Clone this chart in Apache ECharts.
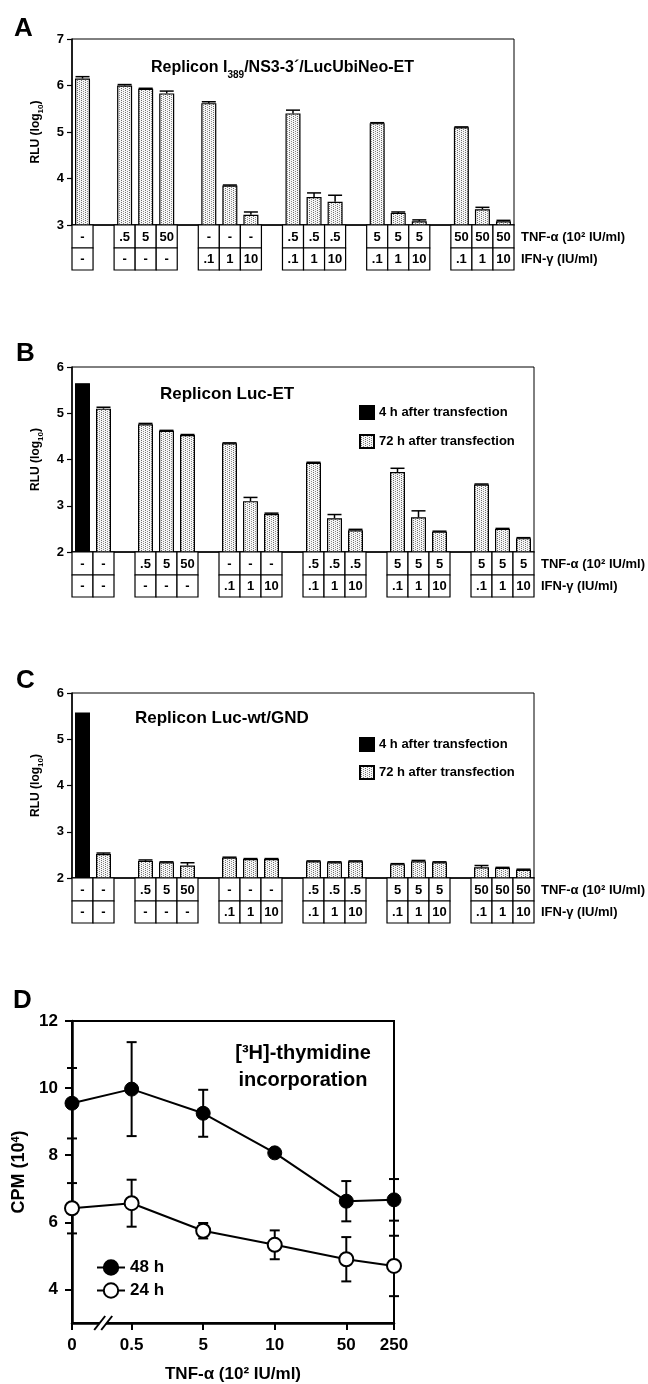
<!DOCTYPE html>
<html>
<head>
<meta charset="utf-8">
<script src="https://cdn.jsdelivr.net/npm/echarts@6/dist/echarts.min.js"></script>
<style>
  html, body { margin: 0; padding: 0; background: #fff; }
  #chart { width: 648px; height: 1384px; }
</style>
</head>
<body>
<div id="chart"></div>
<script>
var FONT = 'Liberation Sans, Arial, sans-serif';

// ---- panel A: Replicon I389/NS3-3'/LucUbiNeo-ET
var aGroups = [1, 3, 3, 3, 3, 3];
var aTnf = ['-', '.5', '5', '50', '-', '-', '-', '.5', '.5', '.5', '5', '5', '5', '50', '50', '50'];
var aIfn = ['-', '-', '-', '-', '.1', '1', '10', '.1', '1', '10', '.1', '1', '10', '.1', '1', '10'];
var aRlu = [6.15, 6.00, 5.93, 5.83, 5.62, 3.85, 3.22, 5.40, 3.60, 3.50, 5.19, 3.26, 3.08, 5.10, 3.34, 3.08];
var aErr = [0.04, 0.02, 0.01, 0.05, 0.03, 0.01, 0.06, 0.07, 0.09, 0.14, 0.01, 0.02, 0.03, 0.01, 0.04, 0.02];

// ---- panel B: Replicon Luc-ET
var bGroups = [2, 3, 3, 3, 3, 3];
var bTnf = ['-', '-', '.5', '5', '50', '-', '-', '-', '.5', '.5', '.5', '5', '5', '5', '5', '5', '5'];
var bIfn = ['-', '-', '-', '-', '-', '.1', '1', '10', '.1', '1', '10', '.1', '1', '10', '.1', '1', '10'];
var b4h = [5.65];
var b4hErr = [0];
var b72h = [5.10, 4.76, 4.62, 4.53, 4.35, 3.10, 2.82, 3.93, 2.73, 2.47, 3.73, 2.75, 2.44, 3.46, 2.50, 2.30];
var b72hErr = [0.03, 0.02, 0.01, 0.01, 0.01, 0.08, 0.02, 0.01, 0.08, 0.02, 0.08, 0.14, 0.01, 0.01, 0.01, 0.01];

// ---- panel C: Replicon Luc-wt/GND
var cGroups = [2, 3, 3, 3, 3, 3];
var cTnf = ['-', '-', '.5', '5', '50', '-', '-', '-', '.5', '.5', '.5', '5', '5', '5', '50', '50', '50'];
var cIfn = ['-', '-', '-', '-', '-', '.1', '1', '10', '.1', '1', '10', '.1', '1', '10', '.1', '1', '10'];
var c4h = [5.58];
var c4hErr = [0];
var c72h = [2.52, 2.37, 2.34, 2.27, 2.44, 2.41, 2.41, 2.36, 2.34, 2.36, 2.30, 2.36, 2.34, 2.23, 2.22, 2.18];
var c72hErr = [0.02, 0.02, 0.01, 0.06, 0.01, 0.01, 0.01, 0.01, 0.01, 0.01, 0.01, 0.02, 0.01, 0.04, 0.01, 0.01];

// ---- panel D: [3H]-thymidine incorporation
var dDoses = ['0', '0.5', '5', '10', '50', '250'];
var dSlots = [0, 5, 11, 17, 23, 27];   // ordinal positions of the doses on the x axis
var dBreak = 2.7;                      // where the // axis break sits
var dYTicks = [4, 6, 8, 10, 12];
var d48h = [9.55, 9.97, 9.25, 8.07, 6.63, 6.67];
var d48hErr = [1.05, 1.40, 0.70, 0.10, 0.60, 0.62];
var d24h = [6.42, 6.57, 5.75, 5.33, 4.90, 4.70];
var d24hErr = [0.75, 0.70, 0.23, 0.43, 0.66, 0.90];

// stipple fill used for the 72 h bars
var pat = document.createElement('canvas');
pat.width = 4; pat.height = 4;
var g = pat.getContext('2d');
g.fillStyle = '#f6f6f6'; g.fillRect(0, 0, 4, 4);
g.fillStyle = '#6e6e6e';
g.fillRect(1, 0, 1, 1); g.fillRect(1, 2, 1, 1);
g.fillStyle = '#8c8c8c';
g.fillRect(3, 1, 1, 1); g.fillRect(3, 3, 1, 1);
var stipple = { image: pat, repeat: 'repeat' };

// one slot per bar, one empty slot between groups
function slotsOf(groups) {
    var pos = [], s = 0;
    groups.forEach(function (n) {
        for (var k = 0; k < n; k++) pos.push(s++);
        s++;
    });
    return { pos: pos, count: s - 1 };
}
function barData(count, pos, vals) {
    var arr = new Array(count).fill('-');
    vals.forEach(function (v, i) { arr[pos[i]] = v; });
    return arr;
}
function catNames(count) {
    var arr = [];
    for (var i = 0; i < count; i++) arr.push(String(i));
    return arr;
}

function tableSeries(idx, pos, tnf, ifn, yMin) {
    return {
        type: 'custom', xAxisIndex: idx, yAxisIndex: idx, clip: false, silent: true, z: 5,
        data: pos.map(function (s, i) { return [s, yMin, i]; }),
        renderItem: function (params, api) {
            var i = api.value(2);
            var p = api.coord([api.value(0), api.value(1)]);
            var w = api.size([1, 0])[0];
            var x0 = p[0] - w / 2, y0 = p[1];
            var box = { fill: '#fff', stroke: '#000', lineWidth: 1.2 };
            var txt = function (t, x, y, al) {
                return { type: 'text', style: { text: t, x: x, y: y, align: al, verticalAlign: 'middle',
                    fontSize: 13, fontWeight: 'bold', fontFamily: FONT, fill: '#000' } };
            };
            var kids = [
                { type: 'rect', shape: { x: x0, y: y0, width: w, height: 23 }, style: box },
                { type: 'rect', shape: { x: x0, y: y0 + 23, width: w, height: 22 }, style: box },
                txt(tnf[i], p[0], y0 + 12, 'center'),
                txt(ifn[i], p[0], y0 + 34, 'center')
            ];
            if (i === tnf.length - 1) {
                kids.push(txt('TNF-α (10² IU/ml)', x0 + w + 7, y0 + 12, 'left'));
                kids.push(txt('IFN-γ (IU/ml)', x0 + w + 7, y0 + 34, 'left'));
            }
            return { type: 'group', children: kids };
        }
    };
}

function errorSeries(idx, pts, capW, both, lw, z) {
    return {
        type: 'custom', xAxisIndex: idx, yAxisIndex: idx, silent: true, z: z,
        data: pts,
        renderItem: function (params, api) {
            var x = api.value(0), v = api.value(1), e = api.value(2);
            if (!e) return;
            var top = api.coord([x, v + e]);
            var low = api.coord([x, both ? v - e : v]);
            var st = { stroke: '#000', lineWidth: lw };
            var kids = [
                { type: 'line', shape: { x1: top[0], y1: top[1], x2: low[0], y2: low[1] }, style: st },
                { type: 'line', shape: { x1: top[0] - capW / 2, y1: top[1], x2: top[0] + capW / 2, y2: top[1] }, style: st }
            ];
            if (both) {
                kids.push({ type: 'line', shape: { x1: low[0] - capW / 2, y1: low[1], x2: low[0] + capW / 2, y2: low[1] }, style: st });
            }
            return { type: 'group', children: kids };
        }
    };
}

function errPts(pos, vals, errs) {
    return vals.map(function (v, i) { return [pos[i], v, errs[i]]; });
}

var sA = slotsOf(aGroups), sB = slotsOf(bGroups), sC = slotsOf(cGroups);

var rluName = {
    name: '{a|RLU (log}{s|10}{a|)}',
    nameLocation: 'middle',
    nameGap: 27,
    nameTextStyle: {
        rich: {
            a: { fontSize: 12, fontWeight: 'bold', fontFamily: FONT, color: '#000' },
            s: { fontSize: 8, fontWeight: 'bold', fontFamily: FONT, color: '#000', verticalAlign: 'bottom', lineHeight: 18 }
        }
    }
};

function rluAxis(idx, min, max) {
    return Object.assign({
        type: 'value', gridIndex: idx, min: min, max: max, interval: 1,
        axisLine: { show: true, lineStyle: { color: '#000', width: 1.5 } },
        axisTick: { show: true, length: 5, lineStyle: { color: '#000', width: 1.2 } },
        axisLabel: { color: '#000', fontSize: 13, fontWeight: 'bold', fontFamily: FONT, margin: 8 },
        splitLine: { show: false }
    }, rluName);
}

function catAxis(idx, count) {
    return {
        type: 'category', gridIndex: idx, data: catNames(count), boundaryGap: true,
        axisLine: { show: true, lineStyle: { color: '#000', width: 1.5 } },
        axisTick: { show: false }, axisLabel: { show: false }, splitLine: { show: false }
    };
}

function panelGrid(left, top, width, height, bw) {
    return { left: left, top: top, width: width, height: height, show: true,
        borderColor: '#000', borderWidth: bw, backgroundColor: 'transparent',
        containLabel: false, outerBoundsMode: 'none' };
}

var barStyle72 = { color: stipple, borderColor: '#000', borderWidth: 1.2 };
var barStyle4 = { color: '#000', borderColor: '#000', borderWidth: 1.2 };

var bold = function (size) {
    return { fontSize: size, fontWeight: 'bold', fontFamily: FONT, color: '#000' };
};

var option = {
    animation: false,
    backgroundColor: '#fff',
    textStyle: { fontFamily: FONT },
    title: [
        { text: 'A', left: 9, top: 11, textStyle: bold(26) },
        { text: 'B', left: 11, top: 336, textStyle: bold(26) },
        { text: 'C', left: 11, top: 663, textStyle: bold(26) },
        { text: 'D', left: 8, top: 983, textStyle: bold(26) },
        {
            text: '{t|Replicon I}{s|389}{t|/NS3-3´/LucUbiNeo-ET}', left: 146, top: 51,
            textStyle: { rich: {
                t: bold(16),
                s: { fontSize: 10, fontWeight: 'bold', fontFamily: FONT, color: '#000', verticalAlign: 'bottom', lineHeight: 24 }
            } }
        },
        { text: 'Replicon Luc-ET', left: 155, top: 381, textStyle: bold(17) },
        { text: 'Replicon Luc-wt/GND', left: 130, top: 705, textStyle: bold(17) },
        { text: '[³H]-thymidine\nincorporation', left: 298, top: 1035, textAlign: 'center',
          textStyle: { fontSize: 20, fontWeight: 'bold', fontFamily: FONT, color: '#000', lineHeight: 27 } }
    ],
    legend: [
        {
            data: ['4 h after transfection', '72 h after transfection'], orient: 'vertical',
            left: 354, top: 400, itemWidth: 14, itemHeight: 13, itemGap: 14, icon: 'rect',
            selectedMode: false, textStyle: bold(13)
        },
        {
            data: ['4 h after transfection', '72 h after transfection'], orient: 'vertical',
            left: 354, top: 732, itemWidth: 14, itemHeight: 13, itemGap: 13, icon: 'rect',
            selectedMode: false, textStyle: bold(13)
        },
        {
            data: ['48 h', '24 h'], orient: 'vertical', left: 91, top: 1254,
            itemWidth: 28, itemHeight: 18, itemGap: 6, selectedMode: false, textStyle: bold(17)
        }
    ],
    grid: [
        panelGrid(72, 39, 442, 186, 1),
        panelGrid(72, 367, 462, 185, 1),
        panelGrid(72, 693, 462, 185, 1),
        panelGrid(72, 1021, 322, 302, 2)
    ],
    xAxis: [
        catAxis(0, sA.count),
        catAxis(1, sB.count),
        catAxis(2, sC.count),
        {
            type: 'value', gridIndex: 3, min: 0, max: dSlots[dSlots.length - 1],
            axisLine: { show: true, lineStyle: { color: '#000', width: 2.5 } },
            axisTick: { show: true, customValues: dSlots, length: 7, lineStyle: { color: '#000', width: 2 } },
            axisLabel: {
                customValues: dSlots, margin: 14, fontSize: 17, fontWeight: 'bold', fontFamily: FONT, color: '#000',
                formatter: function (v) { return dDoses[dSlots.indexOf(v)]; }
            },
            splitLine: { show: false },
            name: 'TNF-α (10² IU/ml)', nameLocation: 'middle', nameGap: 43, nameTextStyle: bold(17)
        }
    ],
    yAxis: [
        rluAxis(0, 3, 7),
        rluAxis(1, 2, 6),
        rluAxis(2, 2, 6),
        {
            type: 'value', gridIndex: 3, min: 3, max: 12,
            axisLine: { show: true, lineStyle: { color: '#000', width: 2.5 } },
            axisTick: { show: true, customValues: dYTicks, length: 7, lineStyle: { color: '#000', width: 2 } },
            axisLabel: { customValues: dYTicks, margin: 14, fontSize: 17, fontWeight: 'bold', fontFamily: FONT, color: '#000' },
            splitLine: { show: false },
            name: '{a|CPM (10}{s|4}{a|)}', nameLocation: 'middle', nameGap: 44,
            nameTextStyle: { rich: {
                a: bold(18),
                s: { fontSize: 11, fontWeight: 'bold', fontFamily: FONT, color: '#000', verticalAlign: 'top', lineHeight: 14 }
            } }
        }
    ],
    series: [
        // A
        { name: 'A', type: 'bar', xAxisIndex: 0, yAxisIndex: 0, barWidth: 15, itemStyle: barStyle72,
          data: barData(sA.count, sA.pos, aRlu) },
        errorSeries(0, errPts(sA.pos, aRlu, aErr), 14, false, 1.5, 4),
        tableSeries(0, sA.pos, aTnf, aIfn, 3),
        // B
        { name: '4 h after transfection', type: 'bar', xAxisIndex: 1, yAxisIndex: 1, barWidth: 15, barGap: '-100%',
          itemStyle: barStyle4, data: barData(sB.count, sB.pos.slice(0, 1), b4h) },
        { name: '72 h after transfection', type: 'bar', xAxisIndex: 1, yAxisIndex: 1, barWidth: 15, barGap: '-100%',
          itemStyle: barStyle72, data: barData(sB.count, sB.pos.slice(1), b72h) },
        errorSeries(1, errPts(sB.pos.slice(0, 1), b4h, b4hErr), 14, false, 1.5, 4),
        errorSeries(1, errPts(sB.pos.slice(1), b72h, b72hErr), 14, false, 1.5, 4),
        tableSeries(1, sB.pos, bTnf, bIfn, 2),
        // C
        { name: '4 h after transfection', type: 'bar', xAxisIndex: 2, yAxisIndex: 2, barWidth: 15, barGap: '-100%',
          itemStyle: barStyle4, data: barData(sC.count, sC.pos.slice(0, 1), c4h) },
        { name: '72 h after transfection', type: 'bar', xAxisIndex: 2, yAxisIndex: 2, barWidth: 15, barGap: '-100%',
          itemStyle: barStyle72, data: barData(sC.count, sC.pos.slice(1), c72h) },
        errorSeries(2, errPts(sC.pos.slice(0, 1), c4h, c4hErr), 14, false, 1.5, 4),
        errorSeries(2, errPts(sC.pos.slice(1), c72h, c72hErr), 14, false, 1.5, 4),
        tableSeries(2, sC.pos, cTnf, cIfn, 2),
        // D
        errorSeries(3, errPts(dSlots, d48h, d48hErr), 10, true, 2, 1),
        errorSeries(3, errPts(dSlots, d24h, d24hErr), 10, true, 2, 1),
        { name: '48 h', type: 'line', xAxisIndex: 3, yAxisIndex: 3, z: 3, symbol: 'circle', symbolSize: 14,
          showAllSymbol: true, clip: false,
          lineStyle: { color: '#000', width: 2 }, itemStyle: { color: '#000', borderColor: '#000', borderWidth: 1 },
          data: dSlots.map(function (s, i) { return [s, d48h[i]]; }) },
        { name: '24 h', type: 'line', xAxisIndex: 3, yAxisIndex: 3, z: 3, symbol: 'circle', symbolSize: 14,
          showAllSymbol: true, clip: false,
          lineStyle: { color: '#000', width: 2 }, itemStyle: { color: '#fff', borderColor: '#000', borderWidth: 2 },
          data: dSlots.map(function (s, i) { return [s, d24h[i]]; }) },
        {
            type: 'custom', xAxisIndex: 3, yAxisIndex: 3, clip: false, silent: true, z: 6,
            data: [[dBreak, 3]],
            renderItem: function (params, api) {
                var p = api.coord([api.value(0), api.value(1)]);
                var st = { stroke: '#000', lineWidth: 2 };
                return { type: 'group', children: [
                    { type: 'polygon', shape: { points: [[p[0] - 8, p[1] + 6], [p[0], p[1] - 6], [p[0] + 6, p[1] - 6], [p[0] - 2, p[1] + 6]] },
                      style: { fill: '#fff' } },
                    { type: 'line', shape: { x1: p[0] - 10, y1: p[1] + 7, x2: p[0] + 1, y2: p[1] - 7 }, style: st },
                    { type: 'line', shape: { x1: p[0] - 3, y1: p[1] + 7, x2: p[0] + 8, y2: p[1] - 7 }, style: st }
                ] };
            }
        }
    ]
};

var chart = echarts.init(document.getElementById('chart'), null, { renderer: 'canvas' });
chart.setOption(option);
</script>
</body>
</html>
